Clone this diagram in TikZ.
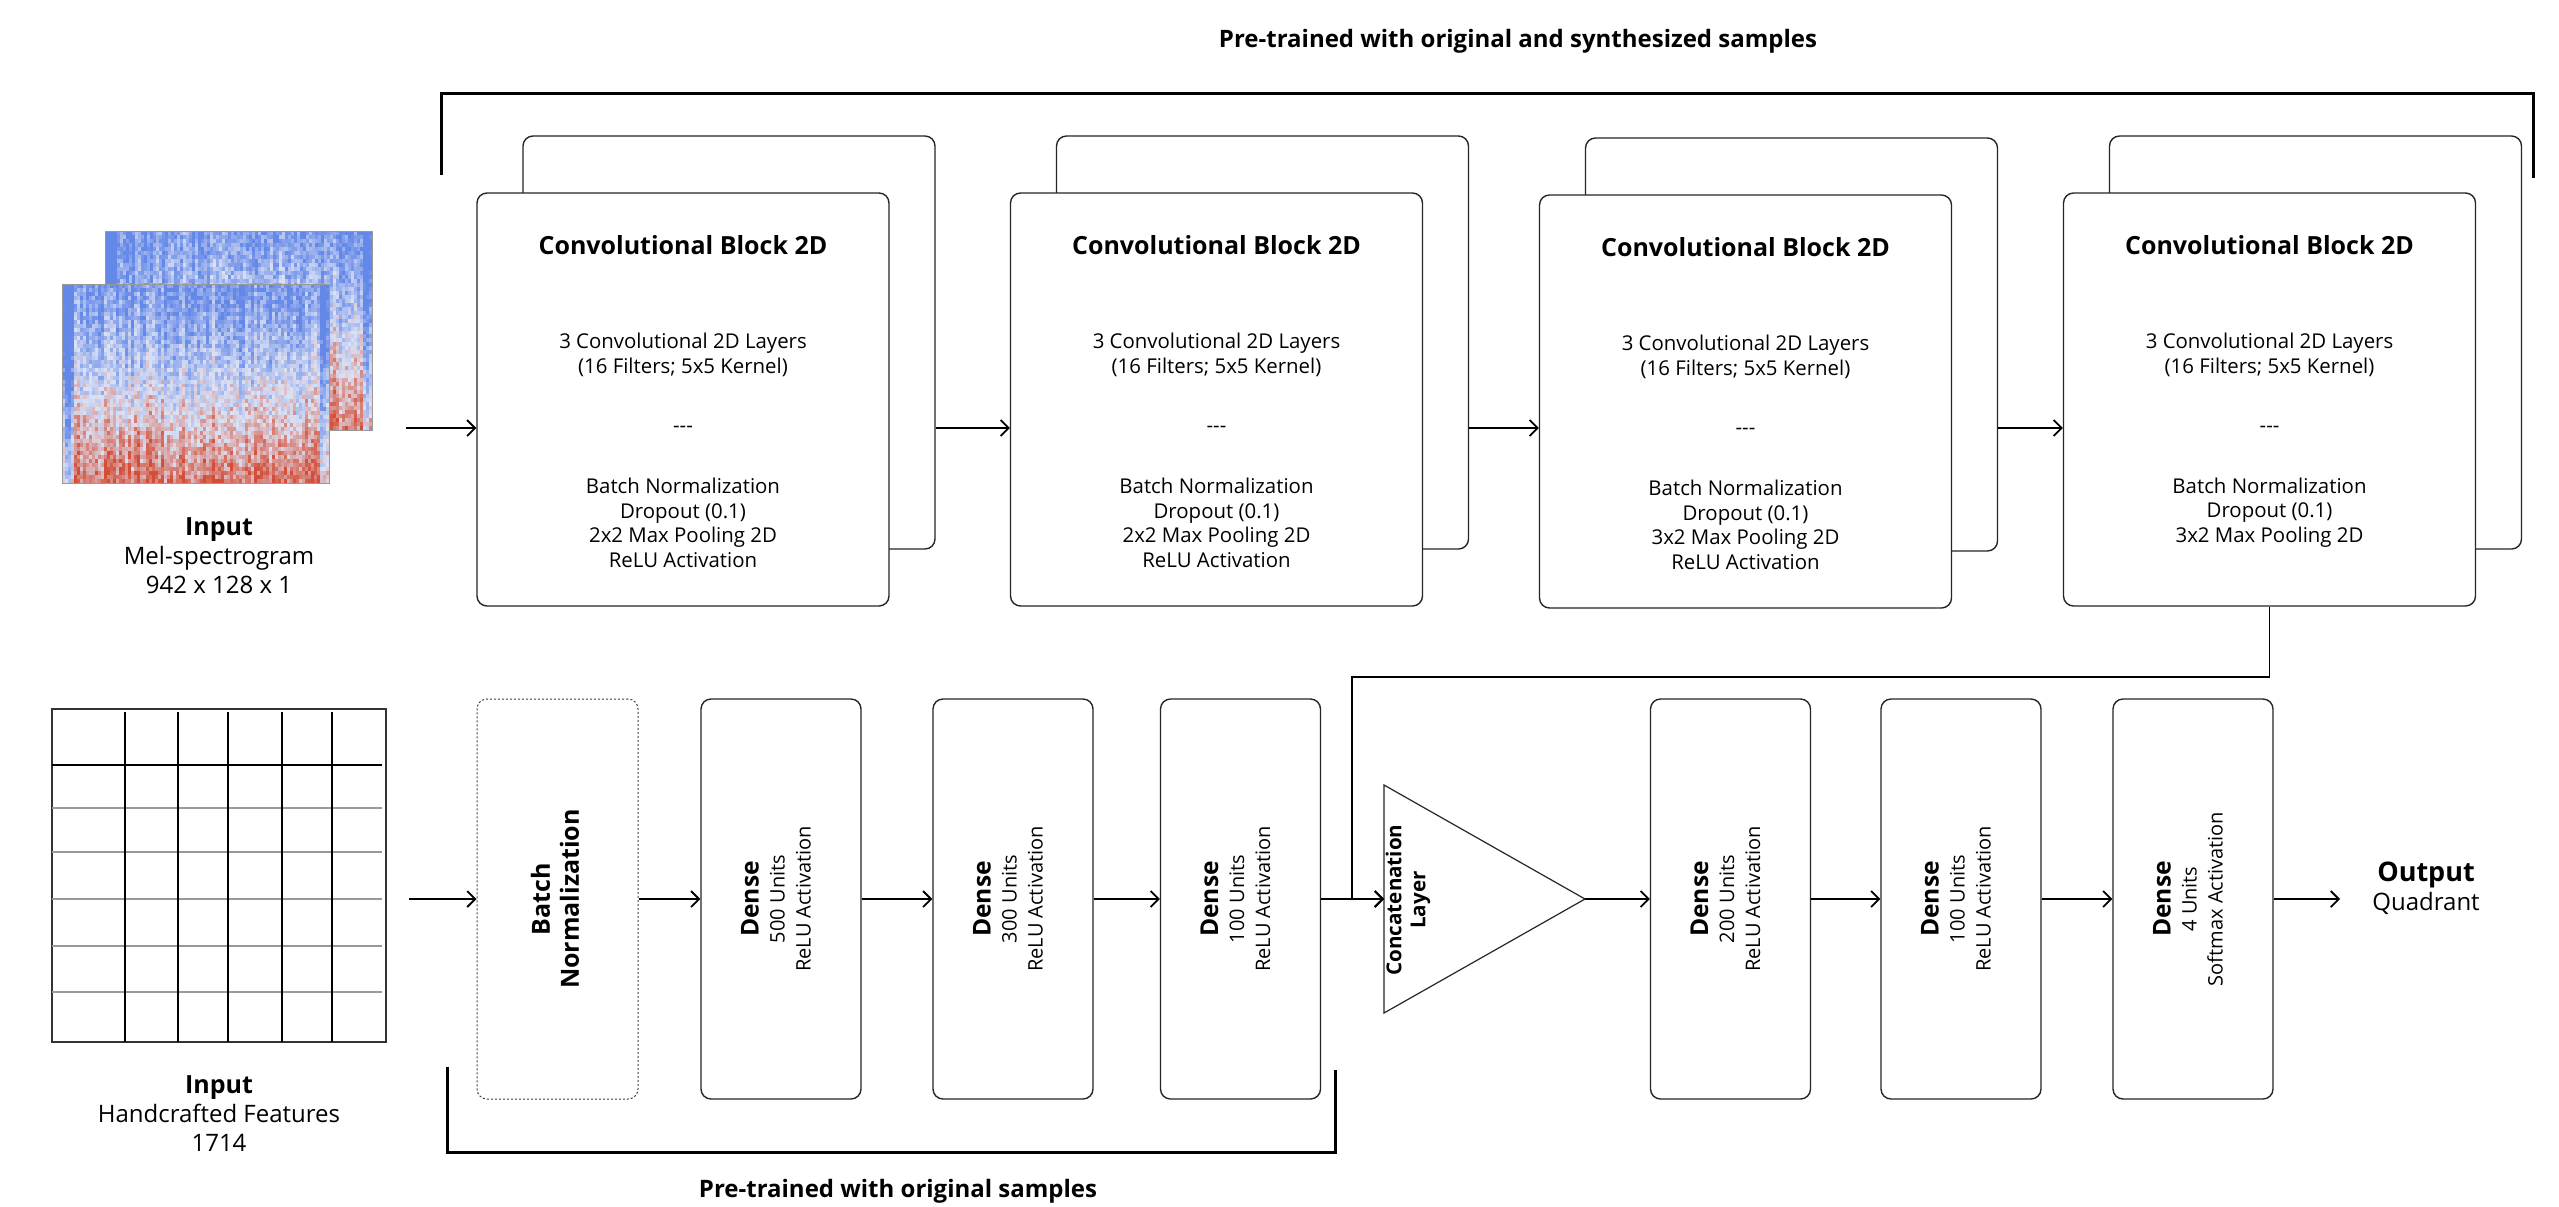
\documentclass[tikz,border=0pt]{standalone}
\usepackage{fontspec}
\setmainfont{Open Sans}
\usetikzlibrary{arrows.meta,calc}
\definecolor{spblue}{RGB}{100,136,232}
\definecolor{spmid}{RGB}{220,226,244}
\definecolor{spred}{RGB}{212,78,55}
\newcommand\ftitle{\fontsize{12.5}{15}\selectfont\bfseries}
\newcommand\fbody{\fontsize{10.2}{12.25}\selectfont}
\newcommand\fdense{\fontsize{12.3}{13}\selectfont\bfseries}
\newcommand\spectro[3]{%
  \pgfmathsetseed{#3}%
  \foreach \i in {0,...,88}{%
    \pgfmathsetmacro\spcol{rnd}%
    \foreach \j in {0,...,49}{%
      \pgfmathsetmacro\spv{max(0,min(1,0.1+0.78*pow(\j/49,1.25)+0.36*(rnd-0.5)+0.3*(\spcol-0.5)-0.4*(\i<4)-0.3*(\i>85)))}%
      \pgfmathtruncatemacro\spA{min(100,200*\spv)}%
      \pgfmathtruncatemacro\spB{max(0,200*\spv-100)}%
      \fill[spred!\spB!spmid!\spA!spblue] ({#1+\i*3}, {#2+\j*3.98}) rectangle ++(3.4,4.4);
    }%
  }%
  \draw[black!40,line width=0.5pt] (#1,#2) rectangle ++(267,199);
}
\begin{document}
\begin{tikzpicture}[x=0.5pt,y=-0.5pt,
  box/.style={draw=black!85,line width=0.7pt,rounded corners=5pt,fill=white,inner sep=0pt},
  convbox/.style={box,minimum width=206pt,minimum height=206.5pt},
  densebox/.style={box,minimum width=80pt,minimum height=200pt},
  bnbox/.style={draw=black!75,line width=0.5pt,dash pattern=on 1pt off 1pt,rounded corners=5pt,inner sep=0pt,minimum width=80.5pt,minimum height=200pt},
  arr/.style={line width=0.9pt,-{Straight Barb[length=4pt,width=8pt,line width=0.9pt]}},
  bracket/.style={line width=1.5pt},
  txt/.style={inner sep=0pt,align=center},
  rtxt/.style={inner sep=0pt,align=center,rotate=90,font=\fontsize{10}{13}\selectfont}]
\fill[white] (0,0) rectangle (2559,1206);
\useasboundingbox (0,0) rectangle (2559,1206);

% ---------- titles / brackets
\node[txt,font=\fontsize{12}{14}\selectfont\bfseries] (toplab) at (1518,41) {Pre-trained with original and synthesized samples};
\draw[bracket] (441,175) -- (441,93) -- (2533,93) -- (2533,178);
\node[txt,font=\fontsize{12}{14}\selectfont\bfseries] (botlab) at (898,1191) {Pre-trained with original samples};
\draw[bracket] (447,1067) -- (447,1152) -- (1335,1152) -- (1335,1070);

% ---------- spectrogram input
\spectro{105}{231}{11}
\spectro{62}{284}{7}
\node[txt,font=\fontsize{12}{14.5}\selectfont] (melinput) at (219,556) {{\fontsize{12.5}{14.5}\selectfont\bfseries Input}\\Mel-spectrogram\\942 x 128 x 1};

% ---------- handcrafted table
\node[draw=black!80,line width=0.6pt,minimum width=167pt,minimum height=166.5pt,inner sep=0pt] (tbl) at (219,875.5) {};
\foreach \yy in {808,852,899,946,992}{\draw[black!40,line width=0.7pt] (52,\yy) -- (382,\yy);}
\draw[line width=1.2pt] (52,765) -- (382,765);
\foreach \xx in {125,178,228,282,332}{\draw[line width=1.2pt] (\xx,712) -- (\xx,1042);}
\node[txt,font=\fontsize{12}{14.5}\selectfont] (hcinput) at (219,1114) {{\fontsize{12.5}{14.5}\selectfont\bfseries Input}\\Handcrafted Features\\1714};

% ---------- convolutional blocks
\newcommand\convblock[5]{%
  \node[convbox] (#1b) at ({#2+46},{399.5-57+#3}) {};
  \node[convbox] (#1) at (#2,{399.5+#3}) {};
  \node[txt,font=\ftitle] (#1t) at ($(#1.north)+(0,53)$) {Convolutional Block 2D};
  \node[txt,font=\fbody] (#1u) at ($(#1.north)+(0,162.5)$) {3 Convolutional 2D Layers\\(16 Filters; 5x5 Kernel)};
  \node[txt,font=\fbody] (#1d) at ($(#1.north)+(0,237)$) {-{}-{}-};
  \node[txt,font=\fbody] (#1l) at ($(#1.north)+(0,#4)$) {#5};
}
\convblock{cA}{683}{0}{330.5}{Batch Normalization\\Dropout (0.1)\\2x2 Max Pooling 2D\\ReLU Activation}
\convblock{cB}{1216.5}{0}{330.5}{Batch Normalization\\Dropout (0.1)\\2x2 Max Pooling 2D\\ReLU Activation}
\convblock{cC}{1745.5}{2}{330.5}{Batch Normalization\\Dropout (0.1)\\3x2 Max Pooling 2D\\ReLU Activation}
\convblock{cD}{2269.5}{0}{320}{Batch Normalization\\Dropout (0.1)\\3x2 Max Pooling 2D}

\coordinate (ain) at (406,428);
\draw[arr] (ain) -- (cA.west |- ain);
\draw[arr] (cAb.east |- ain) -- (cB.west |- ain);
\draw[arr] (cBb.east |- ain) -- (cC.west |- ain);
\draw[arr] (cCb.east |- ain) -- (cD.west |- ain);

% ---------- bottom row
\node[bnbox] (bn) at (557.5,899) {};
\node[txt,rotate=90,font=\fontsize{12.5}{14.5}\selectfont\bfseries] (bnt) at (555,899) {Batch\\Normalization};
\node[densebox] (dA) at (781,899) {};
\node[rtxt] (dAt) at ($(dA.center)+(-5,0)$) {{\fdense Dense}\\500 Units\\ReLU Activation};
\node[densebox] (dB) at (1013,899) {};
\node[rtxt] (dBt) at ($(dB.center)+(-5,0)$) {{\fdense Dense}\\300 Units\\ReLU Activation};
\node[densebox] (dC) at (1240.5,899) {};
\node[rtxt] (dCt) at ($(dC.center)+(-5,0)$) {{\fdense Dense}\\100 Units\\ReLU Activation};

\coordinate (triw) at (1384,899);
\coordinate (trie) at (1585,899);
\draw[line width=0.6pt,black!85] (1384,785) -- (trie) -- (1384,1013) -- cycle;
\node[txt,rotate=90,font=\fontsize{10.3}{12}\selectfont\bfseries] (cat) at (1408,900) {Concatenation\\Layer};

\node[densebox] (dD) at (1730.5,899) {};
\node[rtxt] (dDt) at ($(dD.center)+(-5,0)$) {{\fdense Dense}\\200 Units\\ReLU Activation};
\node[densebox] (dE) at (1961,899) {};
\node[rtxt] (dEt) at ($(dE.center)+(-5,0)$) {{\fdense Dense}\\100 Units\\ReLU Activation};
\node[densebox] (dF) at (2193,899) {};
\node[rtxt] (dFt) at ($(dF.center)+(-5,0)$) {{\fdense Dense}\\4 Units\\Softmax Activation};

\node[txt,font=\fontsize{12}{14.5}\selectfont] (outl) at (2426,888) {{\fontsize{13.5}{14.5}\selectfont\bfseries Output}\\Quadrant};

\coordinate (hin) at (409,899);
\coordinate (jn) at (1352,677);
\coordinate (outc) at (2340,899);
\draw[arr] (hin) -- (bn.west);
\draw[arr] (bn.east) -- (dA.west);
\draw[arr] (dA.east) -- (dB.west);
\draw[arr] (dB.east) -- (dC.west);
\draw[arr] (dC.east) -- (triw);
\draw[arr] (cD.south) |- (jn) |- (triw);
\draw[arr] (trie) -- (dD.west);
\draw[arr] (dD.east) -- (dE.west);
\draw[arr] (dE.east) -- (dF.west);
\draw[arr] (dF.east) -- (outc);
\end{tikzpicture}
\end{document}
